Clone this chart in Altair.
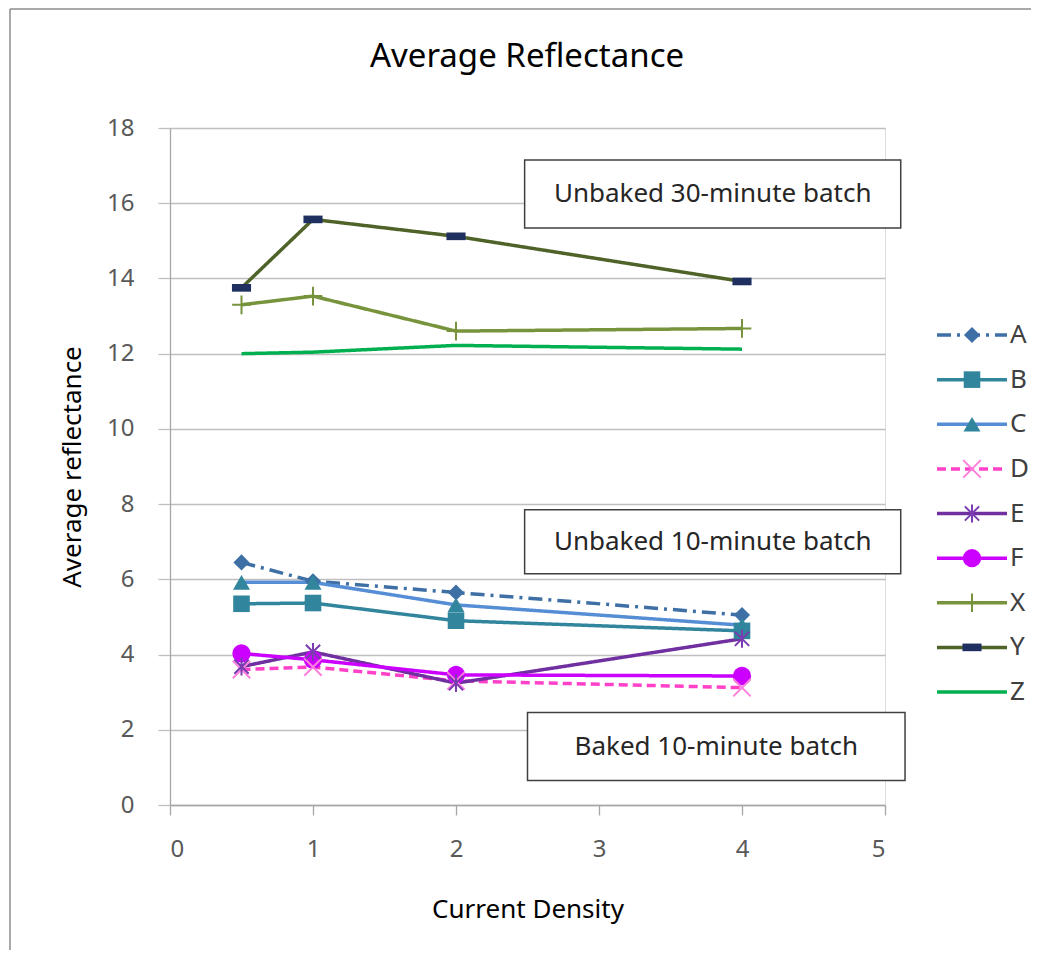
import altair as alt
import pandas as pd

FONT = "Noto Sans"

# ---------------- data ----------------
chart_title = "Average Reflectance"
x_vals = [0.5, 1, 2, 4]
series_names = ["A", "B", "C", "D", "E", "F", "X", "Y", "Z"]
A = [6.45, 5.95, 5.65, 5.05]
B = [5.35, 5.37, 4.90, 4.63]
C = [5.92, 5.92, 5.32, 4.78]
D = [3.60, 3.67, 3.30, 3.12]
E = [3.68, 4.07, 3.24, 4.42]
F = [4.03, 3.86, 3.46, 3.43]
X = [13.30, 13.53, 12.60, 12.67]
Y = [13.75, 15.57, 15.12, 13.92]
Z = [12.00, 12.04, 12.22, 12.12]
values = {"A": A, "B": B, "C": C, "D": D, "E": E, "F": F, "X": X, "Y": Y, "Z": Z}

ann_labels = ["Unbaked 30-minute batch", "Unbaked 10-minute batch", "Baked 10-minute batch"]
ann_x0 = [2.48, 2.48, 2.50]
ann_x1 = [5.11, 5.11, 5.14]
ann_y0 = [15.34, 6.15, 0.65]
ann_y1 = [17.15, 7.85, 2.46]

x_ticks = [0, 1, 2, 3, 4, 5]
y_ticks = list(range(0, 19, 2))

# ---------------- styles ----------------
line_colors = ["#3E6FA5", "#31859C", "#558ED5", "#FF40C8", "#7030A0",
               "#CC00FF", "#77933C", "#4F6228", "#00B050"]
dashes = [[14, 6, 3, 6], [1, 0], [1, 0], [9, 5], [1, 0], [1, 0], [1, 0], [1, 0], [1, 0]]
widths = [3.5, 3.5, 3.5, 3.5, 3.5, 3.5, 3.8, 3.8, 4.8]
X_PATH = "M-1,-1L1,1M-1,1L1,-1"
AST_PATH = "M0,-1L0,1M-0.8,-0.8L0.8,0.8M-0.8,0.8L0.8,-0.8"
PLUS_PATH = "M-1,0L1,0M0,-1L0,1"
DASH_PATH = "M-1,-0.4L1,-0.4L1,0.4L-1,0.4Z"
shapes = ["diamond", "square", "triangle-up", X_PATH, AST_PATH, "circle", PLUS_PATH, DASH_PATH, "circle"]
sizes = [260, 380, 300, 300, 380, 360, 480, 64, 10]
marker_fill = ["#3E6FA5", "#31859C", "#31859C", "#FF80DC", "#7A3CB0",
               "#CC00FF", "#77933C", "#1F2F5F", "#00B050"]
filled_series = ["A", "B", "C", "F", "Y"]
stroked_series = ["D", "E", "X"]

# ---------------- tables ----------------
rows = [{"series": s, "density": xv, "reflectance": v}
        for s in series_names for xv, v in zip(x_vals, values[s])]
df = pd.DataFrame(rows)
legend_df = pd.DataFrame({"series": series_names, "idx": list(range(len(series_names)))})
ann_df = pd.DataFrame({"label": ann_labels, "x0": ann_x0, "x1": ann_x1,
                       "y0": ann_y0, "y1": ann_y1})

color_scale = alt.Scale(domain=series_names, range=line_colors)
dash_scale = alt.Scale(domain=series_names, range=dashes)
width_scale = alt.Scale(domain=series_names, range=widths)
shape_scale = alt.Scale(domain=series_names, range=shapes)
size_scale = alt.Scale(domain=series_names, range=sizes)
fill_scale = alt.Scale(domain=series_names, range=marker_fill)
stroke_scale = alt.Scale(domain=series_names, range=marker_fill)

xs = alt.Scale(domain=[0, 5], nice=False)
ys = alt.Scale(domain=[0, 18], nice=False)

x_enc = alt.X("density:Q", scale=xs, axis=alt.Axis(
    values=x_ticks, format="d", grid=False, ticks=True, tickSize=10, tickColor="#A6A6A6",
    domainColor="#A6A6A6", domainWidth=1.3, tickWidth=1.3,
    labelFontSize=24, labelColor="#595959", labelFont=FONT, labelPadding=22,
    title="Current Density", titleFont=FONT, titleFontSize=26, titleFontWeight="normal",
    titleColor="#000000", titlePadding=35))
y_enc = alt.Y("reflectance:Q", scale=ys, axis=alt.Axis(
    values=y_ticks, format="d", grid=True, gridColor="#BFBFBF", gridWidth=1.3,
    ticks=True, tickSize=12, tickColor="#BFBFBF", tickWidth=1.3,
    domainColor="#A6A6A6", domainWidth=1.3,
    labelFontSize=24, labelColor="#595959", labelFont=FONT, labelPadding=24,
    title="Average reflectance", titleFont=FONT, titleFontSize=26, titleFontWeight="normal",
    titleColor="#000000", titlePadding=21))

base = alt.Chart(df)

lines = base.mark_line().encode(
    x=x_enc, y=y_enc, order="density:Q",
    color=alt.Color("series:N", scale=color_scale, legend=None),
    strokeDash=alt.StrokeDash("series:N", scale=dash_scale, legend=None),
    strokeWidth=alt.StrokeWidth("series:N", scale=width_scale, legend=None),
)

filled_pts = base.transform_filter(
    alt.FieldOneOfPredicate(field="series", oneOf=filled_series)
).mark_point(filled=True, opacity=1).encode(
    x="density:Q", y="reflectance:Q",
    shape=alt.Shape("series:N", scale=shape_scale, legend=None),
    size=alt.Size("series:N", scale=size_scale, legend=None),
    fill=alt.Fill("series:N", scale=fill_scale, legend=None),
)

stroked_pts = base.transform_filter(
    alt.FieldOneOfPredicate(field="series", oneOf=stroked_series)
).mark_point(filled=False, opacity=1, strokeWidth=2).encode(
    x="density:Q", y="reflectance:Q",
    shape=alt.Shape("series:N", scale=shape_scale, legend=None),
    size=alt.Size("series:N", scale=size_scale, legend=None),
    stroke=alt.Stroke("series:N", scale=stroke_scale, legend=None),
)

ann_base = alt.Chart(ann_df)
ann_boxes = ann_base.mark_rect(fill="white", stroke="#404040", strokeWidth=1.5).encode(
    x="x0:Q", x2="x1:Q", y="y0:Q", y2="y1:Q")
ann_text = ann_base.transform_calculate(
    xc="(datum.x0 + datum.x1) / 2", yc="(datum.y0 + datum.y1) / 2"
).mark_text(font=FONT, fontSize=26, color="#262626", align="center", baseline="middle").encode(
    x="xc:Q", y="yc:Q", text="label:N")

main = alt.layer(lines, filled_pts, stroked_pts, ann_boxes, ann_text)

# ---------------- legend ----------------
leg_y = alt.Y("idx:Q", scale=alt.Scale(domain=[0, len(series_names) - 1], range=[207, 564]),
              axis=None)
leg_base = alt.Chart(legend_df)
leg_lines = leg_base.mark_rule().encode(
    x=alt.value(767), x2=alt.value(837), y=leg_y,
    color=alt.Color("series:N", scale=color_scale, legend=None),
    strokeDash=alt.StrokeDash("series:N", scale=dash_scale, legend=None),
    strokeWidth=alt.StrokeWidth("series:N", scale=width_scale, legend=None),
)
leg_filled = leg_base.transform_filter(
    alt.FieldOneOfPredicate(field="series", oneOf=filled_series)
).mark_point(filled=True, opacity=1).encode(
    x=alt.value(802), y=leg_y,
    shape=alt.Shape("series:N", scale=shape_scale, legend=None),
    size=alt.Size("series:N", scale=size_scale, legend=None),
    fill=alt.Fill("series:N", scale=fill_scale, legend=None),
)
leg_stroked = leg_base.transform_filter(
    alt.FieldOneOfPredicate(field="series", oneOf=stroked_series)
).mark_point(filled=False, opacity=1, strokeWidth=2).encode(
    x=alt.value(802), y=leg_y,
    shape=alt.Shape("series:N", scale=shape_scale, legend=None),
    size=alt.Size("series:N", scale=size_scale, legend=None),
    stroke=alt.Stroke("series:N", scale=stroke_scale, legend=None),
)
leg_text = leg_base.mark_text(font=FONT, fontSize=26, color="#404040", align="left",
                              baseline="middle").encode(
    x=alt.value(840), y=leg_y, text="series:N")

legend = alt.layer(leg_lines, leg_filled, leg_stroked, leg_text)

# ---------------- frame & title ----------------
frame_df = pd.DataFrame({"title": [chart_title]})
border_top = alt.Chart(frame_df).mark_rule(stroke="#8C8C8C", strokeWidth=1.5).encode(
    x=alt.value(-160), x2=alt.value(1100), y=alt.value(-119))
border_left = alt.Chart(frame_df).mark_rule(stroke="#8C8C8C", strokeWidth=1.5).encode(
    x=alt.value(-160), y=alt.value(-119), y2=alt.value(1100))
title_text = alt.Chart(frame_df).mark_text(
    font=FONT, fontSize=33, color="#000000", align="center", baseline="alphabetic").encode(
    x=alt.value(357), y=alt.value(-61), text="title:N")

chart = alt.layer(border_top, border_left, title_text, main, legend).resolve_scale(
    y="independent").properties(
    width=715, height=677,
    autosize=alt.AutoSizeParams(type="none"),
    padding={"left": 162, "top": 120, "right": 146, "bottom": 145},
).configure_view(strokeWidth=0).configure(background="white")

chart.save("out.html", embed_options={"renderer": "svg", "actions": False})
